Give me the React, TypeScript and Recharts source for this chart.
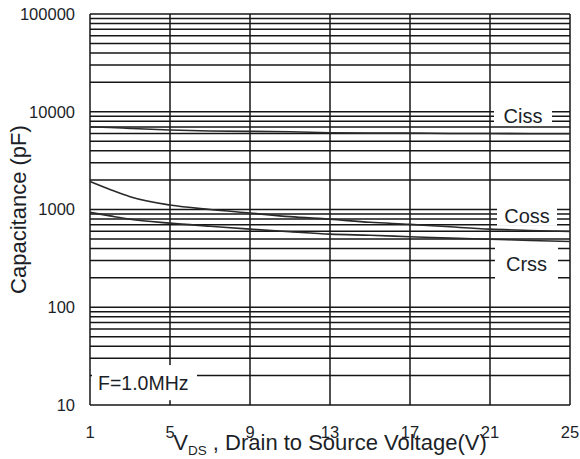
import { LineChart, Line, XAxis, YAxis, ReferenceLine } from 'recharts';

// Capacitance vs drain-source voltage, F = 1.0 MHz
const vds = [1, 2, 3, 5, 7, 9, 11, 13, 15, 17, 19, 21, 23, 25];
const ciss = [7000, 6900, 6750, 6500, 6350, 6300, 6250, 6100, 6050, 6050, 6000, 6000, 5950, 5950];
const coss = [1930, 1600, 1350, 1110, 1000, 920, 845, 795, 740, 705, 665, 630, 610, 595];
const crss = [935, 860, 795, 725, 675, 630, 593, 560, 545, 527, 510, 496, 482, 470];

const xTicks = [1, 5, 9, 13, 17, 21, 25];
const yTicks = [10, 100, 1000, 10000, 100000];
const decades = [10, 100, 1000, 10000];
const multiples = [1, 2, 3, 4, 5, 6, 7, 8, 9];

const gridY = [...decades.flatMap((d) => multiples.map((m) => d * m)), 100000];

// text boxes that blank out the grid behind them
const boxes = [
    { text: 'Ciss', x: [21.2, 24.1], y: [7500, 11000], anchor: 'middle' },
    { text: 'Coss', x: [21.35, 24.35], y: [680, 1060], anchor: 'middle' },
    { text: 'Crss', x: [21.25, 24.4], y: [170, 460], anchor: 'middle' },
    { text: 'F=1.0MHz', x: [1.1, 6.35], y: [11.2, 25.6], anchor: 'start' }
];

const data = vds.map((v, i) => ({ v, ciss: ciss[i], coss: coss[i], crss: crss[i] }));

const FONT = '"Liberation Sans", Arial, sans-serif';
const INK = '#1c1f28';
const GRID = '#161616';

function BoxLabel({ viewBox, text, anchor }: any) {
    const { x, y, width, height } = viewBox;
    const tx = anchor === 'start' ? x + 6 : x + width / 2;
    return (
        <g>
            <rect x={x} y={y} width={width} height={height} fill="#fff" />
            <text
                x={tx}
                y={y + height / 2}
                textAnchor={anchor}
                dominantBaseline="central"
                fontFamily={FONT}
                fontSize={anchor === 'start' ? 19.5 : 20}
                fill={INK}
            >
                {text}
            </text>
        </g>
    );
}

export default function App() {
    return (
        <div style={{ position: 'absolute', left: 0, top: 0, background: '#fff' }}>
            <LineChart
                width={580}
                height={459}
                data={data}
                margin={{ top: 14, right: 10, bottom: 24, left: 0 }}
            >
                <XAxis
                    dataKey="v"
                    type="number"
                    domain={[1, 25]}
                    ticks={xTicks}
                    axisLine={false}
                    tickLine={false}
                    tickSize={0}
                    tickMargin={21}
                    height={30}
                    tick={{ fontSize: 16.5, fill: INK, fontFamily: FONT }}
                    label={{
                        content: ({ viewBox }: any) => (
                            <text
                                x={viewBox.x + viewBox.width / 2}
                                y={viewBox.y + 45}
                                textAnchor="middle"
                                fontFamily={FONT}
                                fontSize={22}
                                fill={INK}
                            >
                                <tspan>V</tspan>
                                <tspan fontSize={13.5} dy={5}>DS</tspan>
                                <tspan dy={-5}> , Drain to Source Voltage(V)</tspan>
                            </text>
                        )
                    }}
                />
                <YAxis
                    type="number"
                    scale="log"
                    domain={[10, 100000]}
                    ticks={yTicks}
                    allowDataOverflow
                    axisLine={false}
                    tickLine={false}
                    tickSize={0}
                    tickMargin={15}
                    width={90}
                    tick={{ fontSize: 16.5, fill: INK, fontFamily: FONT }}
                    label={{
                        content: ({ viewBox }: any) => {
                            const cx = viewBox.x + 18;
                            const cy = viewBox.y + viewBox.height / 2;
                            return (
                                <text
                                    x={cx}
                                    y={cy}
                                    transform={`rotate(-90, ${cx}, ${cy})`}
                                    textAnchor="middle"
                                    dominantBaseline="central"
                                    fontFamily={FONT}
                                    fontSize={22}
                                    fill={INK}
                                >
                                    Capacitance (pF)
                                </text>
                            );
                        }
                    }}
                />
                {gridY.map((y) => (
                    <ReferenceLine key={`gy-${y}`} y={y} stroke={GRID} strokeWidth={1.5} />
                ))}
                {xTicks.map((x) => (
                    <ReferenceLine key={`gx-${x}`} x={x} stroke={GRID} strokeWidth={1.5} />
                ))}
                {boxes.map((b) => (
                    <ReferenceLine
                        key={b.text}
                        segment={[
                            { x: b.x[0], y: b.y[1] },
                            { x: b.x[1], y: b.y[0] }
                        ]}
                        stroke="none"
                        label={{ content: (p: any) => <BoxLabel {...p} text={b.text} anchor={b.anchor} /> }}
                    />
                ))}
                <Line type="monotone" dataKey="ciss" stroke="#2a2a2a" strokeWidth={1.6} dot={false} isAnimationActive={false} />
                <Line type="monotone" dataKey="coss" stroke="#2a2a2a" strokeWidth={1.6} dot={false} isAnimationActive={false} />
                <Line type="monotone" dataKey="crss" stroke="#2a2a2a" strokeWidth={1.6} dot={false} isAnimationActive={false} />
            </LineChart>
        </div>
    );
}
